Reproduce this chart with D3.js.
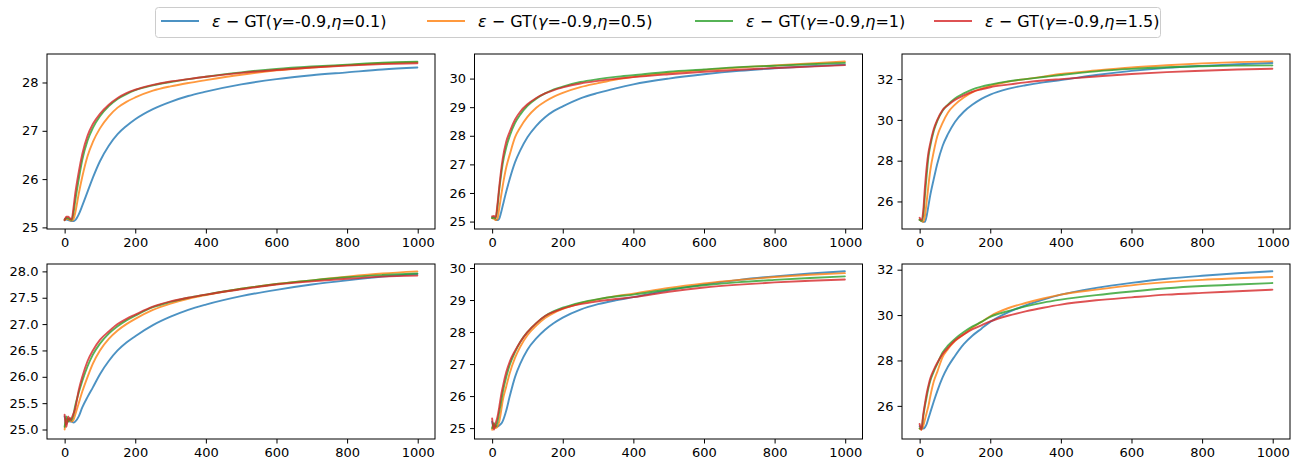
<!DOCTYPE html>
<html>
<head>
<meta charset="utf-8">
<script src="https://cdn.jsdelivr.net/npm/d3@7"></script>
<style>
  html, body { margin: 0; padding: 0; background: #fff; }
  svg { display: block; }
  text { font-family: "DejaVu Sans", sans-serif; }
</style>
</head>
<body>
<svg id="chart" width="1298" height="459"></svg>
<script>
// ---------------- data ----------------
const steps = [0, 5, 10, 15, 20, 25, 30, 40, 50, 65, 80, 100, 125, 150, 175, 200, 250, 300, 350, 400, 500, 600, 700, 800, 900, 999];

const etaValues = ["0.1", "0.5", "1", "1.5"];
const gammaValue = "-0.9";

// panel 1 (top-left)
const p1_eta01 = [25.17,25.16,25.15,25.14,25.13,25.13,25.15,25.27,25.45,25.74,26.03,26.37,26.69,26.93,27.1,27.24,27.45,27.6,27.72,27.81,27.96,28.07,28.15,28.21,28.27,28.31];
const p1_eta05 = [25.16,25.18,25.17,25.15,25.14,25.17,25.3,25.7,26.05,26.48,26.77,27.05,27.3,27.48,27.6,27.69,27.83,27.92,27.99,28.05,28.16,28.25,28.31,28.36,28.4,28.42];
const p1_eta1  = [25.15,25.2,25.19,25.17,25.16,25.3,25.55,26.0,26.4,26.8,27.06,27.3,27.51,27.66,27.76,27.84,27.94,28.01,28.07,28.12,28.21,28.28,28.33,28.37,28.41,28.43];
const p1_eta15 = [25.15,25.22,25.22,25.19,25.17,25.4,25.7,26.15,26.52,26.9,27.14,27.35,27.54,27.68,27.78,27.85,27.95,28.02,28.07,28.12,28.2,28.26,28.31,28.35,28.38,28.4];

// panel 2 (top-middle)
const p2_eta01 = [25.15,25.12,25.07,25.05,25.1,25.3,25.55,26.05,26.5,27.08,27.5,27.95,28.35,28.65,28.87,29.03,29.31,29.5,29.66,29.8,30.0,30.15,30.27,30.36,30.43,30.49];
const p2_eta05 = [25.12,25.1,25.05,25.1,25.45,25.86,26.25,26.9,27.35,27.95,28.3,28.66,28.98,29.2,29.37,29.5,29.7,29.84,29.97,30.06,30.2,30.3,30.39,30.46,30.53,30.6];
const p2_eta1  = [25.12,25.15,25.12,25.5,26.1,26.6,27.03,27.6,28.0,28.45,28.75,29.05,29.3,29.48,29.62,29.72,29.88,29.98,30.06,30.12,30.24,30.32,30.4,30.45,30.5,30.55];
const p2_eta15 = [25.18,25.2,25.15,25.6,26.2,26.75,27.2,27.8,28.15,28.57,28.85,29.1,29.32,29.48,29.6,29.69,29.83,29.92,29.99,30.05,30.15,30.24,30.31,30.37,30.42,30.47];

// panel 3 (top-right)
const p3_eta01 = [25.1,25.05,25.0,25.0,25.3,25.8,26.3,27.1,27.85,28.72,29.3,29.9,30.4,30.75,31.03,31.24,31.52,31.7,31.84,31.95,32.2,32.4,32.55,32.65,32.73,32.79];
const p3_eta05 = [25.1,25.05,25.0,25.3,26.0,26.8,27.5,28.45,29.2,29.85,30.35,30.75,31.1,31.36,31.53,31.67,31.87,32.0,32.12,32.25,32.42,32.57,32.68,32.77,32.83,32.87];
const p3_eta1  = [25.1,25.05,25.3,26.3,27.3,28.2,28.7,29.45,29.95,30.45,30.75,31.05,31.3,31.5,31.63,31.73,31.89,32.0,32.1,32.2,32.38,32.5,32.58,32.63,32.66,32.67];
const p3_eta15 = [25.2,25.1,25.5,26.7,27.7,28.4,28.85,29.55,30.0,30.48,30.72,30.98,31.2,31.38,31.5,31.6,31.73,31.84,31.93,32.0,32.13,32.25,32.34,32.41,32.47,32.51];

// panel 4 (bottom-left)
const p4_eta01 = [25.25,25.1,25.2,25.15,25.15,25.13,25.15,25.25,25.42,25.62,25.8,26.05,26.3,26.5,26.65,26.77,26.98,27.14,27.27,27.37,27.53,27.65,27.75,27.83,27.9,27.95];
const p4_eta05 = [25.0,25.2,25.15,25.2,25.15,25.18,25.28,25.5,25.72,26.0,26.25,26.5,26.72,26.88,27.0,27.1,27.27,27.39,27.48,27.55,27.67,27.76,27.83,27.9,27.96,28.0];
const p4_eta1  = [25.05,25.25,25.15,25.22,25.18,25.28,25.45,25.7,25.92,26.2,26.42,26.63,26.82,26.96,27.07,27.16,27.32,27.42,27.5,27.56,27.67,27.76,27.83,27.89,27.93,27.96];
const p4_eta15 = [25.28,25.05,25.25,25.18,25.22,25.3,25.4,25.75,26.0,26.3,26.5,26.7,26.86,27.0,27.1,27.18,27.33,27.43,27.5,27.56,27.66,27.75,27.81,27.86,27.9,27.92];

// panel 5 (bottom-middle)
const p5_eta01 = [25.2,25.0,25.05,25.05,25.08,25.13,25.22,25.55,26.0,26.6,27.02,27.45,27.8,28.07,28.28,28.45,28.7,28.87,28.99,29.09,29.31,29.49,29.63,29.74,29.83,29.9];
const p5_eta05 = [24.95,25.1,25.0,25.05,25.2,25.5,25.86,26.3,26.72,27.2,27.55,27.9,28.2,28.44,28.6,28.72,28.9,29.02,29.12,29.2,29.38,29.52,29.63,29.72,29.79,29.84];
const p5_eta1  = [25.0,25.15,25.05,25.2,25.5,25.8,26.12,26.6,26.98,27.38,27.7,28.0,28.28,28.5,28.65,28.76,28.92,29.03,29.11,29.17,29.33,29.46,29.56,29.63,29.69,29.74];
const p5_eta15 = [25.3,24.95,25.15,25.35,25.65,26.0,26.28,26.75,27.08,27.42,27.7,28.0,28.28,28.5,28.63,28.73,28.87,28.96,29.03,29.09,29.26,29.39,29.48,29.55,29.6,29.64];

// panel 6 (bottom-right)
const p6_eta01 = [25.1,25.02,25.0,25.05,25.2,25.45,25.7,26.19,26.65,27.25,27.72,28.2,28.72,29.1,29.4,29.7,30.12,30.43,30.68,30.9,31.2,31.42,31.6,31.73,31.84,31.93];
const p6_eta05 = [25.0,24.95,25.1,25.4,25.7,26.0,26.4,27.07,27.5,28.15,28.5,28.85,29.15,29.45,29.7,29.95,30.3,30.53,30.73,30.9,31.12,31.31,31.45,31.55,31.62,31.68];
const p6_eta1  = [25.0,25.0,25.5,26.0,26.4,26.8,27.1,27.51,27.85,28.35,28.65,28.95,29.25,29.5,29.7,29.92,30.17,30.38,30.55,30.68,30.88,31.04,31.18,31.28,31.35,31.41];
const p6_eta15 = [25.2,24.95,25.6,26.1,26.55,26.9,27.2,27.59,27.9,28.28,28.55,28.88,29.15,29.38,29.55,29.72,29.97,30.16,30.32,30.46,30.65,30.78,30.9,30.98,31.05,31.12];

// axis limits and ticks
const xLimits = [-49.95, 1048.95];
const xTickValues = [0, 200, 400, 600, 800, 1000];
const yLimits = [[24.967, 28.59], [24.74, 30.86], [24.65, 33.23], [24.82, 28.14], [24.66, 30.125], [24.54, 32.25]];
const yTickValues = [
  [25, 26, 27, 28],
  [25, 26, 27, 28, 29, 30],
  [26, 28, 30, 32],
  [25.0, 25.5, 26.0, 26.5, 27.0, 27.5, 28.0],
  [25, 26, 27, 28, 29, 30],
  [26, 28, 30, 32]
];
const yTickFormats = [".0f", ".0f", ".0f", ".1f", ".0f", ".0f"];

const panelSeries = [
  [p1_eta01, p1_eta05, p1_eta1, p1_eta15],
  [p2_eta01, p2_eta05, p2_eta1, p2_eta15],
  [p3_eta01, p3_eta05, p3_eta1, p3_eta15],
  [p4_eta01, p4_eta05, p4_eta1, p4_eta15],
  [p5_eta01, p5_eta05, p5_eta1, p5_eta15],
  [p6_eta01, p6_eta05, p6_eta1, p6_eta15]
];

const colors = ["#1f77b4", "#ff7f0e", "#2ca02c", "#d62728"];

// ---------------- layout ----------------
const colLeft = [47, 474.5, 902];
const rowTop = [54, 264];
const panelW = 388, panelH = 175;

const svg = d3.select("#chart");

panelSeries.forEach((series, i) => {
  const col = i % 3, row = Math.floor(i / 3);
  const g = svg.append("g").attr("transform", `translate(${colLeft[col]},${rowTop[row]})`);
  const x = d3.scaleLinear().domain(xLimits).range([0, panelW]);
  const y = d3.scaleLinear().domain(yLimits[i]).range([panelH, 0]);

  const clipId = "clip" + i;
  g.append("clipPath").attr("id", clipId).append("rect").attr("width", panelW).attr("height", panelH);

  const line = d3.line()
    .x((d, k) => x(steps[k]))
    .y(d => y(d))
    .curve(d3.curveMonotoneX);

  const lg = g.append("g").attr("clip-path", `url(#${clipId})`);
  series.forEach((vals, s) => {
    lg.append("path")
      .datum(vals)
      .attr("d", line)
      .attr("fill", "none")
      .attr("stroke", colors[s])
      .attr("stroke-opacity", 0.8)
      .attr("stroke-width", 1.9)
      .attr("stroke-linejoin", "round")
      .attr("stroke-linecap", "round");
  });

  const xAxis = d3.axisBottom(x).tickValues(xTickValues).tickFormat(d3.format("d"))
    .tickSizeInner(4.5).tickSizeOuter(0).tickPadding(4);
  const yAxis = d3.axisLeft(y).tickValues(yTickValues[i]).tickFormat(d3.format(yTickFormats[i]))
    .tickSizeInner(4.5).tickSizeOuter(0).tickPadding(4);

  const xa = g.append("g").attr("transform", `translate(0,${panelH})`).call(xAxis);
  const ya = g.append("g").call(yAxis);
  [xa, ya].forEach(a => {
    a.select(".domain").remove();
    a.selectAll(".tick line").attr("stroke", "#000").attr("stroke-width", 1);
    a.selectAll(".tick text").attr("font-size", 13).attr("fill", "#000").attr("font-family", "DejaVu Sans");
  });

  g.append("rect")
    .attr("x", 0).attr("y", 0).attr("width", panelW).attr("height", panelH)
    .attr("fill", "none").attr("stroke", "#000").attr("stroke-width", 1);
});

// ---------------- legend ----------------
const legend = svg.append("g");
legend.append("rect")
  .attr("x", 155.5).attr("y", 7.5).attr("width", 1005).attr("height", 30)
  .attr("rx", 3).attr("fill", "#fff").attr("fill-opacity", 0.8)
  .attr("stroke", "#cccccc").attr("stroke-width", 1);

const entryX = [161, 427, 695, 934];
etaValues.forEach((eta, s) => {
  const ex = entryX[s];
  legend.append("line")
    .attr("x1", ex).attr("x2", ex + 38).attr("y1", 21).attr("y2", 21)
    .attr("stroke", colors[s]).attr("stroke-opacity", 0.8).attr("stroke-width", 1.9);
  const t = legend.append("text")
    .attr("x", ex + 51).attr("y", 27)
    .attr("font-size", 16).attr("fill", "#000");
  t.append("tspan").attr("font-style", "italic").text("ε");
  t.append("tspan").text(" − GT(");
  t.append("tspan").attr("font-style", "italic").text("γ");
  t.append("tspan").text("=" + gammaValue + ",");
  t.append("tspan").attr("font-style", "italic").text("η");
  t.append("tspan").text("=" + eta + ")");
});
</script>
</body>
</html>
